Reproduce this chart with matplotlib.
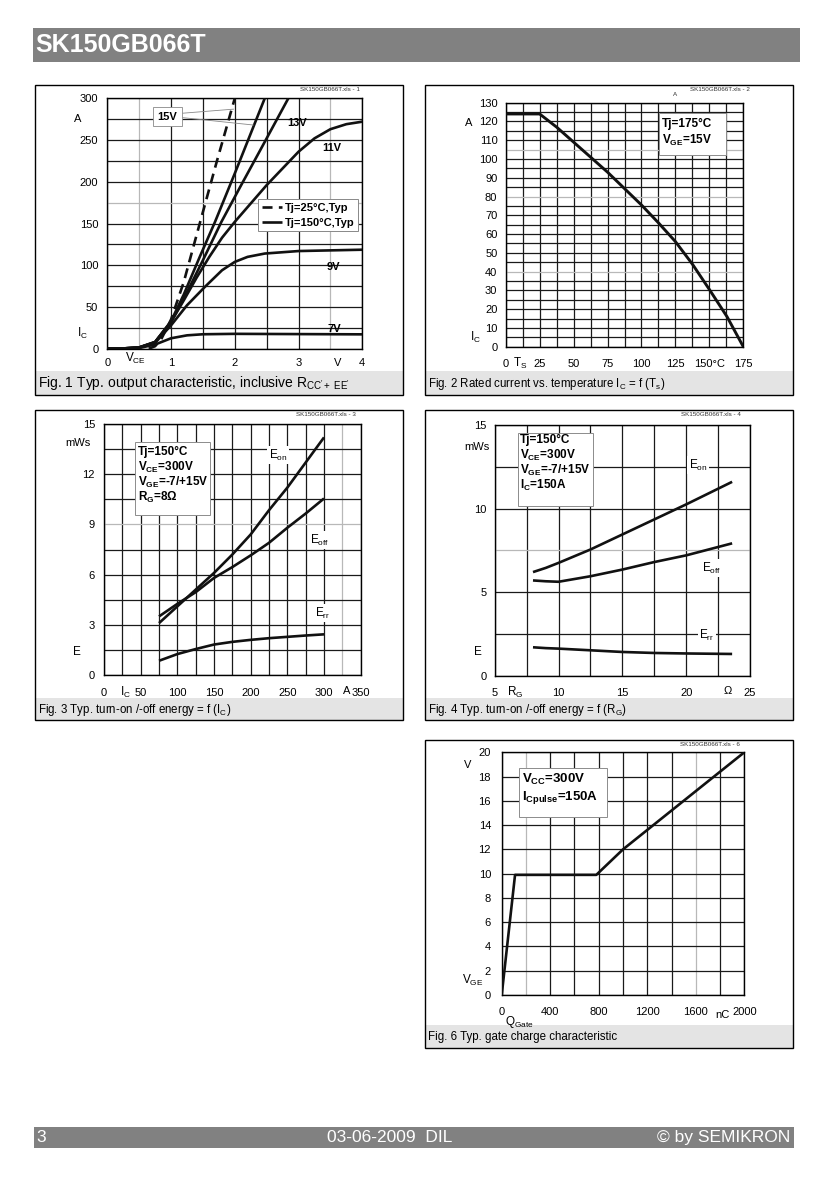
import numpy as np
import matplotlib
matplotlib.use('Agg')
import matplotlib.pyplot as plt
from matplotlib.patches import Rectangle

plt.rcParams['font.family'] = ['Liberation Sans', 'DejaVu Sans']
plt.rcParams['mathtext.fontset'] = 'custom'
plt.rcParams['mathtext.rm'] = 'Liberation Sans'
plt.rcParams['mathtext.it'] = 'Liberation Sans'
plt.rcParams['mathtext.bf'] = 'Liberation Sans:bold'
plt.rcParams['mathtext.default'] = 'rm'

# ---------------- data ----------------
# Fig 1: output characteristic (Tj=150 solid, Tj=25 dashed)
vce_15 = [0, 0.25, 0.5, 0.75, 1.0, 1.2, 1.45, 1.69, 2.0, 2.47]
ic_15 = [0, 0.3, 1.5, 8, 33, 65, 110, 152, 210, 300]
vce_13 = [0, 0.25, 0.5, 0.75, 1.0, 1.2, 1.5, 1.79, 2.1, 2.4, 2.84]
ic_13 = [0, 0.3, 1.5, 8, 32, 60, 106, 152, 196, 238, 300]
vce_11 = [0, 0.25, 0.5, 0.75, 1.0, 1.2, 1.4, 1.6, 1.8, 2.0, 2.25, 2.5, 2.75, 3.0,
          3.25, 3.5, 3.75, 4.0]
ic_11 = [0, 0.3, 1.5, 8, 32, 58, 85, 110, 133, 152, 174, 196, 216, 236, 252, 263,
         269, 272]
vce_9 = [0, 0.25, 0.5, 0.75, 1.0, 1.25, 1.53, 1.8, 2.0, 2.2, 2.47, 3.0, 4.0]
ic_9 = [0, 0.3, 1.5, 7, 28, 52, 74, 94, 104, 110, 114, 117, 118.6]
vce_7 = [0, 0.25, 0.5, 0.75, 1.0, 1.25, 1.5, 2.0, 3.0, 4.0]
ic_7 = [0, 0.2, 0.8, 5, 12.5, 16, 17.3, 17.8, 17.5, 17.2]
vce_25 = [0.65, 0.75, 0.85, 1.0, 1.2, 1.45, 1.72, 2.0]
ic_25 = [0, 3, 12, 35, 80, 150, 225, 300]

# Fig 2: rated current vs temperature
ts = [0, 25, 37.5, 50, 62.5, 75, 100, 112.5, 125, 137.5, 150, 163, 175]
ic_rated = [124, 124, 117, 109, 101, 93, 75.5, 66, 56, 44, 30.5, 16, 0]

# Fig 3: energy vs Ic
ic3 = [75, 100, 125, 150, 175, 200, 225, 250, 275, 300]
eon3 = [3.1, 4.1, 5.1, 6.1, 7.2, 8.4, 9.85, 11.2, 12.7, 14.2]
eoff3 = [3.5, 4.25, 4.95, 5.8, 6.45, 7.15, 7.9, 8.8, 9.65, 10.55]
err3 = [0.85, 1.25, 1.55, 1.82, 1.98, 2.1, 2.2, 2.28, 2.36, 2.43]

# Fig 4: energy vs Rg
rg4 = [8, 9, 10, 12.5, 15, 17.5, 20, 23.6]
eon4 = [6.2, 6.45, 6.75, 7.55, 8.45, 9.35, 10.25, 11.6]
eoff4 = [5.7, 5.65, 5.62, 5.95, 6.35, 6.8, 7.2, 7.92]
err4 = [1.7, 1.65, 1.62, 1.52, 1.42, 1.36, 1.33, 1.3]

# Fig 6: gate charge
qg = [0, 110, 780, 1000, 2000]
vge = [0, 9.9, 9.9, 12.0, 20.0]

# ---------------- layout ----------------
W, H = 832, 1182
fig = plt.figure(figsize=(W / 100, H / 100), dpi=100)
fig.patch.set_facecolor('white')


def add_ax(l, t, r, b):
    return fig.add_axes([l / W, 1 - b / H, (r - l) / W, (b - t) / H])


ov = fig.add_axes([0, 0, 1, 1], zorder=10)
ov.set_xlim(0, W)
ov.set_ylim(H, 0)
ov.axis('off')

GRID = '#1a1a1a'
LGRID = '#b8b8b8'
LW = 1.9


def setup(ax, xlim, ylim, xstep, ystep, xticks, xlabels, yticks, ylabels,
          xpad, ypad, xgray=(), ygray=()):
    ax.set_xlim(*xlim)
    ax.set_ylim(*ylim)
    for x in np.arange(xlim[0], xlim[1] + 1e-9, xstep):
        c = LGRID if any(abs(x - g) < 1e-6 for g in xgray) else GRID
        ax.axvline(x, color=c, lw=0.9, zorder=1)
    for y in np.arange(ylim[0], ylim[1] + 1e-9, ystep):
        c = LGRID if any(abs(y - g) < 1e-6 for g in ygray) else GRID
        ax.axhline(y, color=c, lw=0.9, zorder=1)
    ax.set_xticks(xticks)
    ax.set_xticklabels(xlabels)
    ax.set_yticks(yticks)
    ax.set_yticklabels(ylabels)
    ax.tick_params(axis='x', length=0, labelsize=8, pad=xpad)
    ax.tick_params(axis='y', length=0, labelsize=8, pad=ypad)
    for s in ax.spines.values():
        s.set_linewidth(1.0)
        s.set_color('black')
        s.set_zorder(3)


def panel(l, t, r, b, cap_top, caption, tag, tag_xy, capsize=8.3):
    ov.add_patch(Rectangle((l, cap_top), r - l, b - cap_top, facecolor='#e4e4e4',
                           edgecolor='none'))
    ov.add_patch(Rectangle((l, t), r - l, b - t, facecolor='none',
                           edgecolor='black', lw=1.0))
    ov.text(l + 3.5, (cap_top + b) / 2 + 0.5, caption, fontsize=capsize, va='center',
            ha='left')
    ov.text(tag_xy[0], tag_xy[1], tag, fontsize=4.5, color='#333333',
            ha='center', va='center')


def infobox(l, t, r, b, lines, x0, ys, size=8.5):
    ov.add_patch(Rectangle((l, t), r - l, b - t, facecolor='white',
                           edgecolor='#8c8c8c', lw=0.7))
    for s, y in zip(lines, ys):
        ov.text(x0, y, s, fontsize=size, fontweight='bold', va='center', ha='left')


# header / footer
ov.add_patch(Rectangle((33, 28), 767, 34, facecolor='#818181', edgecolor='none'))
ov.text(35, 45.5, 'SK150GB066T', color='white', fontsize=18, fontweight='bold',
        va='center', ha='left')
ov.add_patch(Rectangle((34, 1127), 760, 21, facecolor='#818181', edgecolor='none'))
ov.text(36, 1137.5, '3', color='white', fontsize=12.5, va='center', ha='left')
ov.text(390, 1137.5, '03-06-2009  DIL', color='white', fontsize=12.5,
        va='center', ha='center')
ov.text(790, 1137.5, '© by SEMIKRON', color='white', fontsize=12.5,
        va='center', ha='right')

# ---------------- Fig 1 ----------------
panel(35, 84.7, 403, 395, 371, r"Fig. 1 Typ. output characteristic, inclusive R$_{CC'+\ EE'}$",
      'SK150GB066T.xls - 1', (330, 89.5), capsize=10)
ax1 = add_ax(107.3, 98.3, 362.3, 348.7)
setup(ax1, (0, 4), (0, 300), 0.5, 25, [0, 1, 2, 3, 4], ['0', '1', '2', '3', '4'],
      list(range(0, 301, 50)), [str(v) for v in range(0, 301, 50)], 6.5, 6.5,
      xgray=(0.5, 3.5), ygray=(175,))
kw = dict(color='#111111', lw=LW, zorder=4, solid_capstyle='butt')
h150, = ax1.plot(vce_15, ic_15, **kw)
ax1.plot(vce_13, ic_13, **kw)
ax1.plot(vce_11, ic_11, **kw)
ax1.plot(vce_9, ic_9, **kw)
ax1.plot(vce_7, ic_7, **kw)
h25, = ax1.plot(vce_25, ic_25, color='#111111', lw=LW, zorder=4, dashes=(3.8, 2.4))
ax1.plot([1.16, 1.98], [282, 287], color='#888888', lw=0.6, zorder=5)
ax1.plot([1.16, 2.29], [277, 268], color='#888888', lw=0.6, zorder=5)
ax1.text(0.944, 278, '15V', fontsize=8, fontweight='bold', ha='center', va='center',
         zorder=6, bbox=dict(boxstyle='square,pad=0.4', fc='white', ec='#888888', lw=0.6))
for s, x, y in [('13V', 2.97, 270), ('11V', 3.52, 240), ('9V', 3.55, 98), ('7V', 3.56, 24)]:
    ax1.text(x, y, s, fontsize=8, fontweight='bold', ha='center', va='center', zorder=6)
leg = ax1.legend([h25, h150], ['Tj=25°C,Typ', 'Tj=150°C,Typ'], loc='upper left',
                 bbox_to_anchor=(0.59, 0.597), borderaxespad=0, fancybox=False,
                 framealpha=1, edgecolor='#888888', prop=dict(size=8, weight='bold'),
                 handlelength=1.8, handletextpad=0.3, borderpad=0.35, labelspacing=0.4)
leg.get_frame().set_linewidth(0.7)
leg.set_zorder(6)
ov.text(78, 119.5, 'A', fontsize=8, ha='center', va='center')
ov.text(82, 333, 'I$_C$', fontsize=8.5, ha='center', va='center')
ov.text(135, 358, 'V$_{CE}$', fontsize=8.5, ha='center', va='center')
ov.text(338, 362.5, 'V', fontsize=8, ha='center', va='center')

# ---------------- Fig 2 ----------------
panel(424.7, 84.7, 792.7, 395, 371, 'Fig. 2 Rated current vs. temperature I$_C$ = f (T$_s$)',
      'SK150GB066T.xls - 2', (720, 89.5))
ax2 = add_ax(505.7, 102.7, 743.3, 346.7)
setup(ax2, (0, 175), (0, 130), 12.5, 5, [0, 25, 50, 75, 100, 125, 150, 175],
      ['0', '25', '50', '75', '100', '125', '150°C', '175'],
      list(range(0, 131, 10)), [str(v) for v in range(0, 131, 10)], 8.5, 6,
      ygray=(105, 80, 40))
ax2.plot(ts, ic_rated, color='#111111', lw=2.1, zorder=4)
infobox(659.3, 113.3, 726, 155, ['Tj=175°C', r'$\mathbf{V_{GE}}$=15V'], 662, [124, 140.5])
ov.text(469, 123.5, 'A', fontsize=8, ha='center', va='center')
ov.text(475, 337, 'I$_C$', fontsize=8.5, ha='center', va='center')
ov.text(520, 363, 'T$_S$', fontsize=8.5, ha='center', va='center')
ov.text(675, 95, 'A', fontsize=4.5, ha='center', va='center', color='#333333')

# ---------------- Fig 3 ----------------
panel(35, 409.7, 403, 720, 698, 'Fig. 3 Typ. turn-on /-off energy = f (I$_C$)',
      'SK150GB066T.xls - 3', (326, 415))
ax3 = add_ax(104, 424, 360.7, 675)
setup(ax3, (0, 350), (0, 15), 25, 1.5, list(range(0, 351, 50)),
      ['0', '50', '100', '150', '200', '250', '300', '350'],
      [0, 3, 6, 9, 12, 15], ['0', '3', '6', '9', '12', '15'], 9, 6.5,
      xgray=(325,), ygray=(9,))
ax3.plot(ic3, eon3, **kw)
ax3.plot(ic3, eoff3, **kw)
ax3.plot(ic3, err3, **kw)
infobox(135, 441.7, 210, 515,
        ['Tj=150°C', r'$\mathbf{V_{CE}}$=300V', r'$\mathbf{V_{GE}}$=-7/+15V',
         r'$\mathbf{R_{G}}$=8Ω'], 137.5, [451.7, 467.3, 482.3, 497.7])
lb = dict(boxstyle='square,pad=0.15', fc='white', ec='none')
ov.text(278, 455, 'E$_{on}$', fontsize=8.5, ha='center', va='center', bbox=lb)
ov.text(320, 540, 'E$_{off}$', fontsize=8.5, ha='center', va='center', bbox=lb)
ov.text(323, 613, 'E$_{rr}$', fontsize=8.5, ha='center', va='center', bbox=lb)
ov.text(78, 442.5, 'mWs', fontsize=8, ha='center', va='center')
ov.text(77, 652, 'E', fontsize=8.5, ha='center', va='center')
ov.text(125, 692.5, 'I$_C$', fontsize=8.5, ha='center', va='center')
ov.text(347, 691, 'A', fontsize=8, ha='center', va='center')

# ---------------- Fig 4 ----------------
panel(424.7, 409.7, 792.7, 720, 698, 'Fig. 4 Typ. turn-on /-off energy = f (R$_G$)',
      'SK150GB066T.xls - 4', (711, 415))
ax4 = add_ax(494.7, 425, 750, 675.7)
setup(ax4, (5, 25), (0, 15), 2.5, 2.5, [5, 10, 15, 20, 25],
      ['5', '10', '15', '20', '25'], [0, 5, 10, 15], ['0', '5', '10', '15'], 8.7, 5.8,
      ygray=(7.5,))
ax4.plot(rg4, eon4, **kw)
ax4.plot(rg4, eoff4, **kw)
ax4.plot(rg4, err4, **kw)
infobox(517.7, 433.3, 592.7, 505.7,
        ['Tj=150°C', r'$\mathbf{V_{CE}}$=300V', r'$\mathbf{V_{GE}}$=-7/+15V',
         r'$\mathbf{I_{C}}$=150A'], 520, [440, 455.5, 470.5, 485.5])
ov.text(698, 465, 'E$_{on}$', fontsize=8.5, ha='center', va='center', bbox=lb)
ov.text(712, 568, 'E$_{off}$', fontsize=8.5, ha='center', va='center', bbox=lb)
ov.text(707, 635, 'E$_{rr}$', fontsize=8.5, ha='center', va='center', bbox=lb)
ov.text(477, 447, 'mWs', fontsize=8, ha='center', va='center')
ov.text(478, 652, 'E', fontsize=8.5, ha='center', va='center')
ov.text(515, 692, 'R$_G$', fontsize=8.5, ha='center', va='center')
ov.text(728, 691, 'Ω', fontsize=8, ha='center', va='center')

# ---------------- Fig 6 ----------------
panel(424.7, 739.7, 792.7, 1048, 1025, 'Fig. 6 Typ. gate charge characteristic',
      'SK150GB066T.xls - 6', (710, 744.5))
ax6 = add_ax(501.7, 752.3, 744.3, 995)
setup(ax6, (0, 2000), (0, 20), 200, 2, list(range(0, 2001, 400)),
      ['0', '400', '800', '1200', '1600', '2000'], list(range(0, 21, 2)),
      [str(v) for v in range(0, 21, 2)], 8.7, 7.7, xgray=(200, 1600))
ax6.plot(qg, vge, **kw)
infobox(519.3, 768.3, 606.7, 816.7, [r'$\mathbf{V_{CC}}$=300V', r'$\mathbf{I_{Cpulse}}$=150A'],
        521.5, [779, 797], size=9.5)
ov.text(468, 765, 'V', fontsize=8, ha='center', va='center')
ov.text(473, 980, 'V$_{GE}$', fontsize=8.5, ha='center', va='center')
ov.text(519, 1021.5, 'Q$_{Gate}$', fontsize=8.5, ha='center', va='center')
ov.text(722, 1015, 'nC', fontsize=8, ha='center', va='center')

fig.savefig('out.png', dpi=100)
